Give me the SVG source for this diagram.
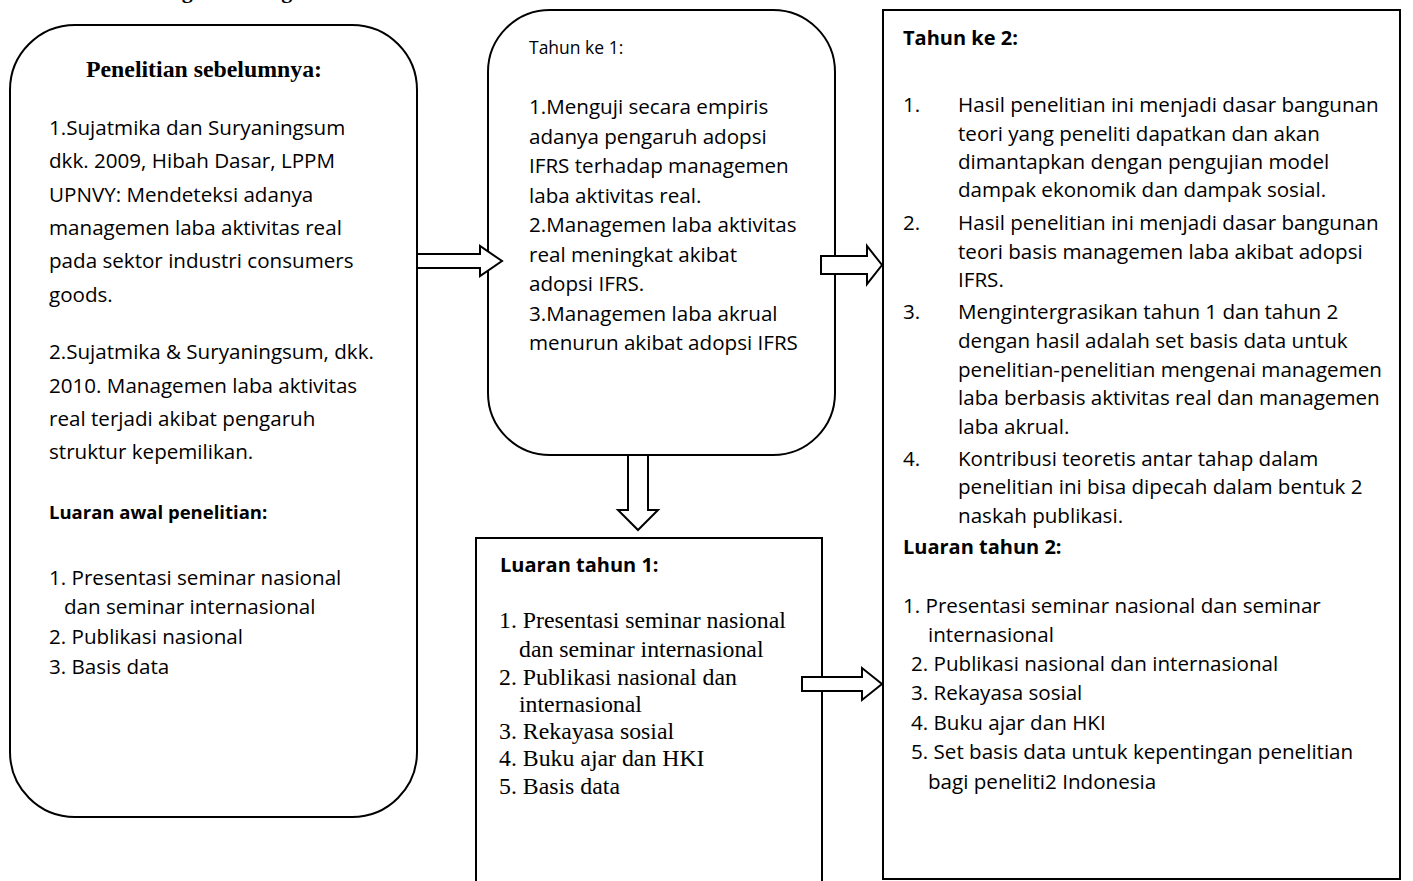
<svg xmlns="http://www.w3.org/2000/svg" width="1413" height="881" viewBox="0 0 1413 881">
  <style>
    .box { fill: #fff; stroke: #000; stroke-width: 2; }
    .arrow { fill: #fff; stroke: #000; stroke-width: 2; stroke-linejoin: miter; }
    .sans { font-family: "Open Sans", "Noto Sans", "Liberation Sans", sans-serif; font-size: 20.6px; fill: #000; }
    .sans-b { font-family: "Open Sans", "Noto Sans", "Liberation Sans", sans-serif; font-size: 20px; font-weight: bold; fill: #000; }
    .small { font-family: "Open Sans", "Noto Sans", "Liberation Sans", sans-serif; font-size: 17.5px; fill: #000; }
    .serif { font-family: "Liberation Serif", "Times New Roman", serif; font-size: 23.8px; fill: #000; }
    .serif-b { font-family: "Liberation Serif", "Times New Roman", serif; font-size: 23.8px; font-weight: bold; fill: #000; }
    .title { font-family: "Liberation Serif", "Times New Roman", serif; font-size: 22px; font-weight: bold; fill: #000; }
  </style>

  <rect width="1413" height="881" fill="#fff"/>

  <!-- heading, mostly above the page edge -->
  <text class="title" x="156" y="-2">Bagan Kerangka Pikir</text>

  <!-- earlier research -->
  <g id="penelitian-sebelumnya">
    <rect class="box" x="10" y="25" width="407" height="792" rx="65" ry="65"/>
    <text class="serif-b" x="86" y="77">Penelitian sebelumnya:</text>
    <text class="sans" x="49" y="135">1.Sujatmika dan Suryaningsum</text>
    <text class="sans" x="49" y="168">dkk. 2009, Hibah Dasar, LPPM</text>
    <text class="sans" x="49" y="202">UPNVY: Mendeteksi adanya</text>
    <text class="sans" x="49" y="235">managemen laba aktivitas real</text>
    <text class="sans" x="49" y="268">pada sektor industri consumers</text>
    <text class="sans" x="49" y="302">goods.</text>
    <text class="sans" x="49" y="359">2.Sujatmika &amp; Suryaningsum, dkk.</text>
    <text class="sans" x="49" y="393">2010. Managemen laba aktivitas</text>
    <text class="sans" x="49" y="426">real terjadi akibat pengaruh</text>
    <text class="sans" x="49" y="459">struktur kepemilikan.</text>
    <text class="sans-b" x="49" y="519" style="font-size:18.5px">Luaran awal penelitian:</text>
    <text class="sans" x="49" y="585">1. Presentasi seminar nasional</text>
    <text class="sans" x="64" y="614">dan seminar internasional</text>
    <text class="sans" x="49" y="644">2. Publikasi nasional</text>
    <text class="sans" x="49" y="674">3. Basis data</text>
  </g>

  <!-- year 1 -->
  <g id="tahun-1">
    <rect class="box" x="488" y="10" width="347" height="445" rx="62" ry="62"/>
    <text class="small" x="529" y="54">Tahun ke 1:</text>
    <text class="sans" x="529" y="114">1.Menguji secara empiris</text>
    <text class="sans" x="529" y="143.5">adanya pengaruh adopsi</text>
    <text class="sans" x="529" y="173">IFRS terhadap managemen</text>
    <text class="sans" x="529" y="202.5">laba aktivitas real.</text>
    <text class="sans" x="529" y="232">2.Managemen laba aktivitas</text>
    <text class="sans" x="529" y="261.5">real meningkat akibat</text>
    <text class="sans" x="529" y="291">adopsi IFRS.</text>
    <text class="sans" x="529" y="320.5">3.Managemen laba akrual</text>
    <text class="sans" x="529" y="350">menurun akibat adopsi IFRS</text>
  </g>

  <!-- year 1 outputs -->
  <g id="luaran-tahun-1">
    <rect class="box" x="476" y="538" width="346" height="360"/>
    <text class="sans-b" x="500" y="572">Luaran tahun 1:</text>
    <text class="serif" x="499" y="628">1. Presentasi seminar nasional</text>
    <text class="serif" x="519" y="657">dan seminar internasional</text>
    <text class="serif" x="499" y="685">2. Publikasi nasional dan</text>
    <text class="serif" x="519" y="712">internasional</text>
    <text class="serif" x="499" y="739">3. Rekayasa sosial</text>
    <text class="serif" x="499" y="766">4. Buku ajar dan HKI</text>
    <text class="serif" x="499" y="794">5. Basis data</text>
  </g>

  <!-- year 2 and its outputs -->
  <g id="tahun-2">
    <rect class="box" x="883" y="10" width="517" height="869"/>
    <text class="sans-b" x="903" y="45">Tahun ke 2:</text>
    <text class="sans" x="903" y="112">1.</text>
    <text class="sans" x="958" y="112">Hasil penelitian ini menjadi dasar bangunan</text>
    <text class="sans" x="958" y="141">teori yang peneliti dapatkan dan akan</text>
    <text class="sans" x="958" y="169">dimantapkan dengan pengujian model</text>
    <text class="sans" x="958" y="197">dampak ekonomik dan dampak sosial.</text>
    <text class="sans" x="903" y="230">2.</text>
    <text class="sans" x="958" y="230">Hasil penelitian ini menjadi dasar bangunan</text>
    <text class="sans" x="958" y="259">teori basis managemen laba akibat adopsi</text>
    <text class="sans" x="958" y="287">IFRS.</text>
    <text class="sans" x="903" y="319">3.</text>
    <text class="sans" x="958" y="319">Mengintergrasikan tahun 1 dan tahun 2</text>
    <text class="sans" x="958" y="348">dengan hasil adalah set basis data untuk</text>
    <text class="sans" x="958" y="377">penelitian-penelitian mengenai managemen</text>
    <text class="sans" x="958" y="405">laba berbasis aktivitas real dan managemen</text>
    <text class="sans" x="958" y="434">laba akrual.</text>
    <text class="sans" x="903" y="466">4.</text>
    <text class="sans" x="958" y="466">Kontribusi teoretis antar tahap dalam</text>
    <text class="sans" x="958" y="494">penelitian ini bisa dipecah dalam bentuk 2</text>
    <text class="sans" x="958" y="523">naskah publikasi.</text>
    <text class="sans-b" x="903" y="554">Luaran tahun 2:</text>
    <text class="sans" x="903" y="613">1. Presentasi seminar nasional dan seminar</text>
    <text class="sans" x="928" y="642">internasional</text>
    <text class="sans" x="911" y="671">2. Publikasi nasional dan internasional</text>
    <text class="sans" x="911" y="700">3. Rekayasa sosial</text>
    <text class="sans" x="911" y="730">4. Buku ajar dan HKI</text>
    <text class="sans" x="911" y="759">5. Set basis data untuk kepentingan penelitian</text>
    <text class="sans" x="928" y="789">bagi peneliti2 Indonesia</text>
  </g>

  <!-- block arrows -->
  <g id="connectors">
    <polygon class="arrow" points="417,254 480,254 480,246 502,261 480,276 480,268 417,268"/>
    <polygon class="arrow" points="821,256 867,256 867,246 882,265 867,284 867,274 821,274"/>
    <polygon class="arrow" points="628,455 648,455 648,510 658,510 638,530 618,510 628,510"/>
    <polygon class="arrow" points="802,677 862,677 862,668 882,684 862,700 862,691 802,691"/>
  </g>
</svg>
